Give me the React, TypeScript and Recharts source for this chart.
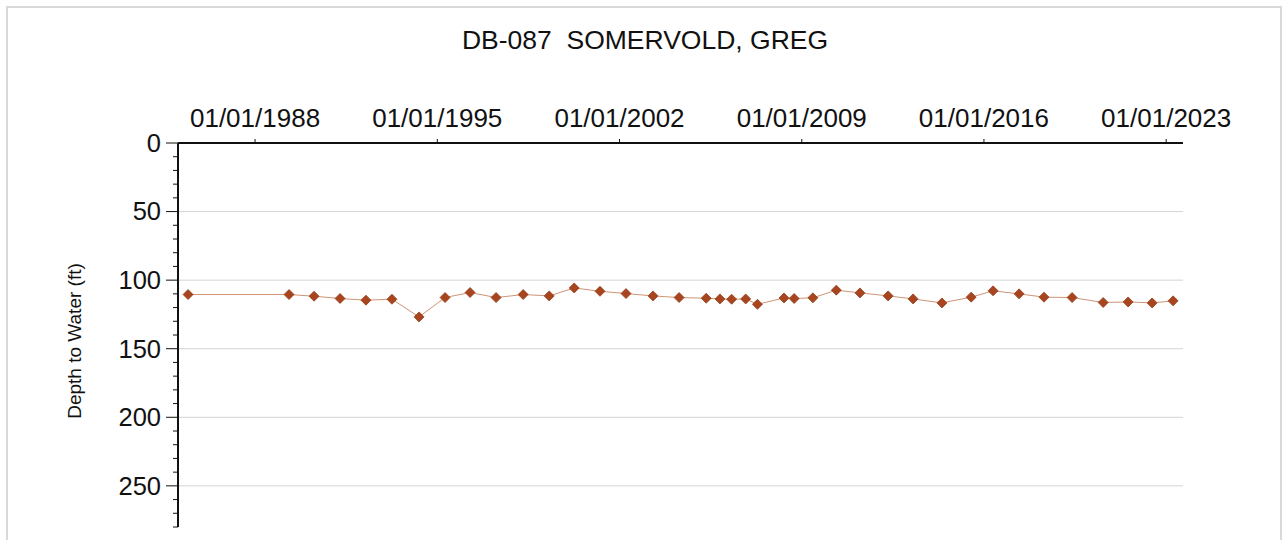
import React from 'react';
import { LineChart, Line, XAxis, YAxis, ReferenceLine } from 'recharts';

const chartTitle = 'DB-087  SOMERVOLD, GREG';
const yAxisTitle = 'Depth to Water (ft)';

const sampleDates = [
  '1985-06-05', '1989-04-22', '1990-04-08', '1991-04-08', '1992-04-05',
  '1993-04-05', '1994-04-20', '1995-04-20', '1996-04-05', '1997-04-05',
  '1998-04-20', '1999-04-20', '2000-04-05', '2001-04-02', '2002-04-02',
  '2003-04-16', '2004-04-16', '2005-05-01', '2005-11-10', '2006-04-23',
  '2006-11-06', '2007-04-20', '2008-04-27', '2008-09-16', '2009-06-06',
  '2010-05-01', '2011-03-28', '2012-04-27', '2013-04-12', '2014-05-22',
  '2015-07-06', '2016-05-08', '2017-05-08', '2018-04-23', '2019-05-22',
  '2020-07-31', '2021-07-16', '2022-06-18', '2023-04-08',
];

const depthFt = [
  110.5, 110.5, 111.7, 113.4, 114.6,
  113.9, 126.8, 112.7, 109.0, 112.7,
  110.5, 111.5, 105.7, 108.1, 109.8,
  111.5, 112.7, 113.2, 113.7, 113.9,
  113.7, 117.6, 113.0, 113.4, 112.9,
  107.3, 109.3, 111.5, 113.7, 116.6,
  112.4, 107.8, 110.0, 112.4, 112.7,
  116.3, 115.9, 116.6, 115.1,
];

const xTickDates = ['1988-01-01', '1995-01-01', '2002-01-01', '2009-01-01', '2016-01-01', '2023-01-01'];
const xDomainDates = ['1985-01-15', '2023-08-25'];

const yTickValues = [0, 10, 20, 30, 40, 50, 60, 70, 80, 90, 100, 110, 120, 130, 140, 150, 160, 170, 180, 190, 200, 210, 220, 230, 240, 250, 260, 270, 280];
const yMajorValues = [0, 50, 100, 150, 200, 250];
const yGridValues = [50, 100, 150, 200, 250];
const yDomain = [0, 280];

const data = sampleDates.map((d, i) => ({ t: Date.parse(d), depth: depthFt[i] }));
const xTicks = xTickDates.map((d) => Date.parse(d));
const xDomain = xDomainDates.map((d) => Date.parse(d));

const FONT = '"Liberation Sans", Arial, Helvetica, sans-serif';

const fmtDate = (v: number) => {
  const d = new Date(v);
  const mm = String(d.getUTCMonth() + 1).padStart(2, '0');
  const dd = String(d.getUTCDate()).padStart(2, '0');
  return `${mm}/${dd}/${d.getUTCFullYear()}`;
};

const XTick = (props: any) => {
  const { x, y, payload } = props;
  return (
    <text x={x} y={y - 12} textAnchor="middle" fontSize={26} fontFamily={FONT} fill="#111">
      {fmtDate(payload.value)}
    </text>
  );
};

const YTick = (props: any) => {
  const { x, y, payload } = props;
  const v = payload.value;
  const major = yMajorValues.includes(v);
  return (
    <g>
      <line x1={x - (major ? 12 : 5)} x2={x} y1={y} y2={y} stroke="#111" strokeWidth={1} />
      {major && (
        <text x={x - 17} y={y} dy="0.35em" textAnchor="end" fontSize={25.5} fontFamily={FONT} fill="#111">
          {v}
        </text>
      )}
    </g>
  );
};

const Diamond = (props: any) => {
  const { cx, cy } = props;
  if (cx == null || cy == null) return null;
  const r = 5;
  return (
    <polygon
      points={`${cx},${cy - r} ${cx + r},${cy} ${cx},${cy + r} ${cx - r},${cy}`}
      fill="#a8451e"
      stroke="#93401c"
      strokeWidth={0.8}
    />
  );
};

export default function App() {
  return (
    <div style={{ position: 'absolute', left: 0, top: 0, width: 1283, height: 540, background: '#fff', overflow: 'hidden' }}>
      <div
        style={{
          position: 'absolute',
          left: 6,
          top: 6,
          width: 1276,
          height: 545,
          border: '2px solid #d9d9d9',
          boxSizing: 'border-box',
        }}
      />
      <div style={{ position: 'absolute', left: 0, top: 0 }}>
        <LineChart width={1283} height={540} data={data} margin={{ top: 103, right: 100, bottom: 13, left: 78 }}>
          <XAxis
            dataKey="t"
            type="number"
            orientation="top"
            height={40}
            domain={xDomain}
            ticks={xTicks}
            interval={0}
            allowDataOverflow
            tick={<XTick />}
            tickSize={4}
            tickMargin={0}
            tickLine={{ stroke: '#111', strokeWidth: 1 }}
            axisLine={{ stroke: '#111', strokeWidth: 2 }}
          />
          <YAxis
            type="number"
            width={100}
            domain={yDomain}
            reversed
            ticks={yTickValues}
            interval={0}
            allowDataOverflow
            tick={<YTick />}
            tickSize={0}
            tickMargin={0}
            tickLine={false}
            axisLine={{ stroke: '#111', strokeWidth: 2 }}
          />
          {yGridValues.map((v) => (
            <ReferenceLine key={v} y={v} stroke="#d4d4d4" strokeWidth={1} />
          ))}
          <Line
            type="linear"
            dataKey="depth"
            stroke="#cf9476"
            strokeWidth={1}
            dot={<Diamond />}
            activeDot={false}
            isAnimationActive={false}
          />
        </LineChart>
      </div>
      <svg width={1283} height={540} style={{ position: 'absolute', left: 0, top: 0, pointerEvents: 'none' }}>
        <text x={645} y={49} textAnchor="middle" fontSize={26.5} fontFamily={FONT} fill="#111" style={{ whiteSpace: 'pre' }}>
          {chartTitle}
        </text>
        <text
          x={0}
          y={0}
          transform="translate(81, 341) rotate(-90)"
          textAnchor="middle"
          fontSize={19}
          fontFamily={FONT}
          fill="#111"
        >
          {yAxisTitle}
        </text>
      </svg>
    </div>
  );
}
